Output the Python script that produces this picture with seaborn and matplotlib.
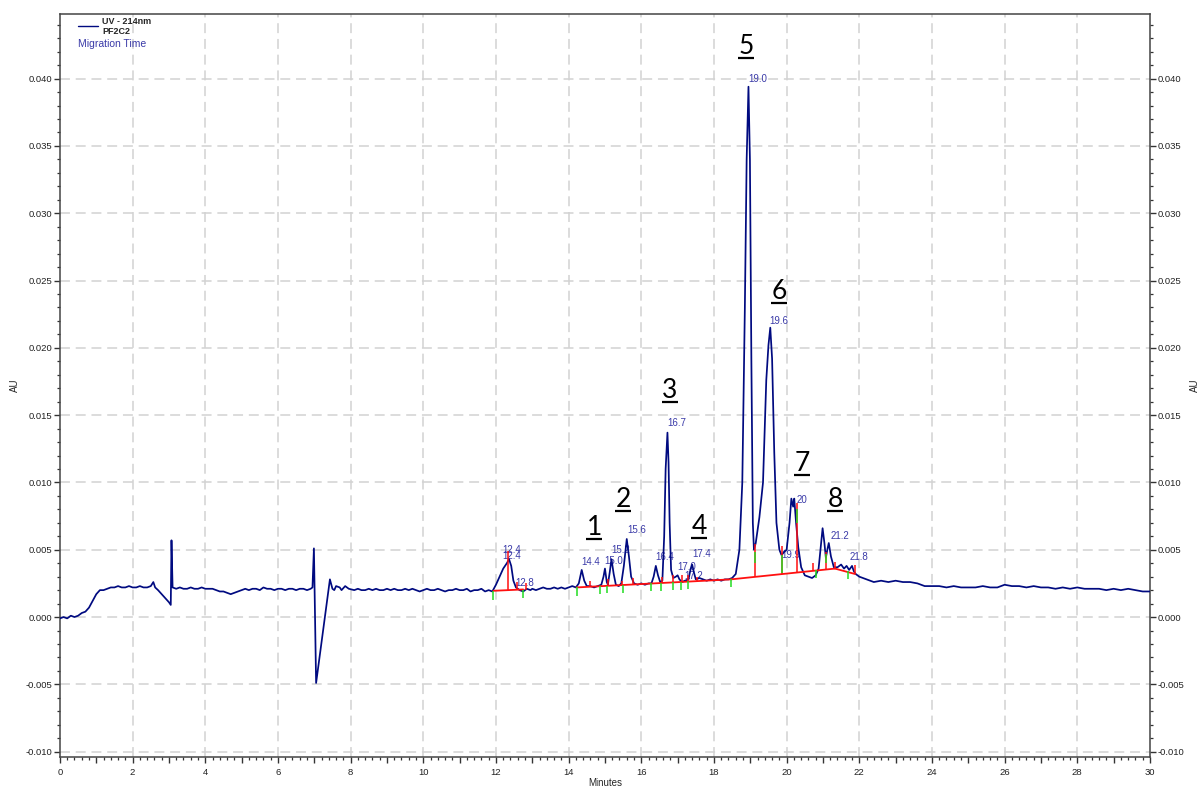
import numpy as np
import pandas as pd
import matplotlib
matplotlib.use("Agg")
import matplotlib.pyplot as plt
import matplotlib.transforms as mtransforms
from matplotlib.ticker import MultipleLocator, FuncFormatter
import seaborn as sns

# UV 214 nm trace (Minutes, AU)
trace_start = [(0.0, -0.0001), (0.1, 0.0000), (0.2, -0.0001), (0.3, 0.0001), (0.4, 0.0000),
               (0.5, 0.0001), (0.6, 0.0003), (0.7, 0.0004), (0.8, 0.0007), (0.9, 0.0012),
               (1.0, 0.0017), (1.1, 0.0020), (1.2, 0.0020), (1.3, 0.0021), (1.4, 0.0022),
               (1.5, 0.0022), (1.6, 0.0023), (1.7, 0.0022), (1.8, 0.0022), (1.9, 0.0023),
               (2.0, 0.0022), (2.1, 0.0022), (2.2, 0.0023), (2.3, 0.0022), (2.4, 0.0022),
               (2.5, 0.0023), (2.57, 0.0026), (2.62, 0.0022), (2.7, 0.0020), (2.8, 0.0017),
               (2.9, 0.0014), (3.0, 0.0011), (3.05, 0.0009), (3.07, 0.0057), (3.10, 0.0022)]
trace_flat1 = [(3.2, 0.0021), (3.3, 0.0022), (3.4, 0.0021), (3.5, 0.0021), (3.6, 0.0022),
               (3.7, 0.0021), (3.8, 0.0021), (3.9, 0.0022), (4.0, 0.0021), (4.1, 0.0021),
               (4.2, 0.0021), (4.3, 0.0020), (4.4, 0.0019), (4.5, 0.0019), (4.6, 0.0018),
               (4.7, 0.0017), (4.8, 0.0018), (4.9, 0.0019), (5.0, 0.0020), (5.1, 0.0021),
               (5.2, 0.0020), (5.3, 0.0021), (5.4, 0.0021), (5.5, 0.0020), (5.6, 0.0022),
               (5.7, 0.0021), (5.8, 0.0021), (5.9, 0.0020), (6.0, 0.0021), (6.1, 0.0021),
               (6.2, 0.0020), (6.3, 0.0021), (6.4, 0.0021), (6.5, 0.0020), (6.6, 0.0021),
               (6.7, 0.0021), (6.8, 0.0020), (6.9, 0.0021), (6.95, 0.0022), (6.99, 0.0051)]
trace_dip7 = [(7.05, -0.0049), (7.43, 0.0028), (7.5, 0.0021), (7.55, 0.0020), (7.6, 0.0023),
              (7.7, 0.0022), (7.75, 0.0020), (7.85, 0.0023), (7.95, 0.0021)]
trace_flat2 = [(8.1, 0.0020), (8.2, 0.0021), (8.3, 0.0020), (8.4, 0.0020), (8.5, 0.0021),
               (8.6, 0.0020), (8.7, 0.0021), (8.8, 0.0020), (8.9, 0.0020), (9.0, 0.0021),
               (9.1, 0.0020), (9.2, 0.0021), (9.3, 0.0020), (9.4, 0.0020), (9.5, 0.0021),
               (9.6, 0.0020), (9.7, 0.0021), (9.8, 0.0020), (9.9, 0.0019), (10.0, 0.0020),
               (10.1, 0.0021), (10.2, 0.0020), (10.3, 0.0020), (10.4, 0.0021), (10.5, 0.0020),
               (10.6, 0.0019), (10.7, 0.0020), (10.8, 0.0020), (10.9, 0.0021), (11.0, 0.0020),
               (11.1, 0.0020), (11.2, 0.0021), (11.3, 0.0019), (11.4, 0.0020), (11.5, 0.0020),
               (11.6, 0.0021), (11.7, 0.0019), (11.8, 0.0020), (11.9, 0.0019)]
trace_peaks_a = [(12.0, 0.0024), (12.1, 0.0030), (12.2, 0.0036), (12.3, 0.0040), (12.36, 0.0043),
                 (12.42, 0.0038), (12.48, 0.0027), (12.55, 0.0022), (12.65, 0.0020), (12.75, 0.0019),
                 (12.85, 0.0021), (12.95, 0.0020), (13.0, 0.0021), (13.1, 0.0020), (13.2, 0.0021),
                 (13.3, 0.0022), (13.4, 0.0021), (13.5, 0.0021), (13.6, 0.0022), (13.7, 0.0021),
                 (13.8, 0.0022), (13.9, 0.0021), (14.0, 0.0022), (14.1, 0.0023), (14.2, 0.0022),
                 (14.28, 0.0025), (14.36, 0.0035), (14.43, 0.0027), (14.5, 0.0023), (14.6, 0.0023),
                 (14.7, 0.0022), (14.8, 0.0023), (14.9, 0.0024), (14.96, 0.0030), (15.0, 0.0036),
                 (15.05, 0.0026), (15.08, 0.0024), (15.13, 0.0033), (15.18, 0.0043), (15.24, 0.0032),
                 (15.3, 0.0024), (15.38, 0.0023), (15.45, 0.0025), (15.52, 0.0038), (15.6, 0.0058),
                 (15.66, 0.0045), (15.72, 0.0030), (15.8, 0.0025), (15.9, 0.0024), (16.0, 0.0025),
                 (16.1, 0.0024), (16.2, 0.0025), (16.28, 0.0025), (16.34, 0.0030), (16.4, 0.0038),
                 (16.46, 0.0031), (16.52, 0.0026), (16.58, 0.0027), (16.63, 0.0060), (16.67, 0.0110),
                 (16.72, 0.0137), (16.75, 0.0115), (16.78, 0.0070), (16.82, 0.0035), (16.88, 0.0029),
                 (16.95, 0.0030), (17.0, 0.0031), (17.05, 0.0028), (17.12, 0.0026), (17.2, 0.0027),
                 (17.3, 0.0028), (17.36, 0.0036), (17.4, 0.0039), (17.45, 0.0033), (17.5, 0.0028),
                 (17.6, 0.0029), (17.7, 0.0028), (17.8, 0.0027), (17.9, 0.0028), (18.0, 0.0027),
                 (18.1, 0.0028), (18.2, 0.0027), (18.3, 0.0028), (18.4, 0.0028), (18.5, 0.0029)]
trace_peaks_b = [(18.6, 0.0032), (18.7, 0.0050), (18.78, 0.0100), (18.85, 0.0229), (18.9, 0.0340),
                 (18.95, 0.0394), (18.99, 0.0340), (19.03, 0.0190), (19.07, 0.0070), (19.1, 0.0050),
                 (19.15, 0.0055), (19.25, 0.0074), (19.35, 0.0100), (19.44, 0.0176), (19.5, 0.0202),
                 (19.55, 0.0215), (19.6, 0.0192), (19.66, 0.0122), (19.72, 0.0070), (19.8, 0.0050),
                 (19.86, 0.0046), (19.92, 0.0048), (20.0, 0.0050), (20.08, 0.0070), (20.13, 0.0088),
                 (20.18, 0.0082), (20.21, 0.0088), (20.26, 0.0070), (20.32, 0.0052), (20.4, 0.0037),
                 (20.5, 0.0031), (20.6, 0.0030), (20.7, 0.0029), (20.8, 0.0031), (20.88, 0.0036),
                 (20.95, 0.0055), (20.99, 0.0066), (21.04, 0.0055), (21.08, 0.0044), (21.12, 0.0050),
                 (21.16, 0.0055), (21.22, 0.0045), (21.3, 0.0037), (21.4, 0.0037), (21.5, 0.0039),
                 (21.58, 0.0036), (21.65, 0.0038), (21.72, 0.0035), (21.8, 0.0038), (21.85, 0.0034),
                 (21.9, 0.0032), (22.0, 0.0030)]
trace_tail = [(22.2, 0.0028), (22.4, 0.0026), (22.6, 0.0027), (22.8, 0.0026), (23.0, 0.0027),
              (23.2, 0.0026), (23.4, 0.0026), (23.6, 0.0025), (23.8, 0.0023), (24.0, 0.0023),
              (24.2, 0.0023), (24.4, 0.0022), (24.6, 0.0023), (24.8, 0.0022), (25.0, 0.0022),
              (25.2, 0.0022), (25.4, 0.0023), (25.6, 0.0022), (25.8, 0.0022), (26.0, 0.0024),
              (26.2, 0.0023), (26.4, 0.0023), (26.6, 0.0022), (26.8, 0.0023), (27.0, 0.0022),
              (27.2, 0.0022), (27.4, 0.0021), (27.6, 0.0022), (27.8, 0.0021), (28.0, 0.0022),
              (28.2, 0.0021), (28.4, 0.0021), (28.6, 0.0021), (28.8, 0.0020), (29.0, 0.0021),
              (29.2, 0.0020), (29.4, 0.0021), (29.6, 0.0020), (29.8, 0.0019), (30.0, 0.0019)]

# integration baseline segments (start, end)
baseline_segments = [((11.93, 0.00195), (12.75, 0.00205)),
                     ((14.22, 0.0022), (18.47, 0.0028)),
                     ((18.47, 0.0028), (21.33, 0.0036)),
                     ((21.33, 0.0036), (21.88, 0.0032))]

# red drop lines / peak end marks
red_x = [12.34, 12.58, 12.84, 14.59, 15.08, 15.46, 15.77, 16.56, 16.87, 17.11, 17.29, 17.52,
         19.13, 19.86, 20.28, 20.73, 21.08, 21.33, 21.88]
red_lo = [0.0020, 0.0020, 0.0020, 0.0023, 0.0023, 0.0024, 0.0024, 0.0025, 0.0026, 0.0026, 0.0027, 0.0027,
          0.0030, 0.0032, 0.0033, 0.0034, 0.0035, 0.0036, 0.0032]
red_hi = [0.0049, 0.0026, 0.0025, 0.0027, 0.0028, 0.0027, 0.0029, 0.0030, 0.0031, 0.0031, 0.0031, 0.0030,
          0.0054, 0.0053, 0.0085, 0.0040, 0.0048, 0.0041, 0.0039]

# green peak start marks
green_x = [11.93, 12.75, 14.22, 14.86, 15.07, 15.49, 16.27, 16.54, 16.88, 17.08, 17.29, 18.47,
           19.13, 19.86, 20.28, 20.81, 21.08, 21.70]
green_lo = [0.0013, 0.0014, 0.0016, 0.0017, 0.0018, 0.0018, 0.0019, 0.0019, 0.0020, 0.0020, 0.0021, 0.0022,
            0.0040, 0.0033, 0.0070, 0.0029, 0.0040, 0.0028]
green_hi = [0.0019, 0.0020, 0.0022, 0.0023, 0.0023, 0.0024, 0.0025, 0.0025, 0.0026, 0.0026, 0.0027, 0.0028,
            0.0048, 0.0046, 0.0080, 0.0035, 0.0047, 0.0034]

# migration time labels
mt_labels = ["12.4", "12.4", "12.8", "14.4", "15.0", "15.2", "15.6", "16.4", "16.7", "17.0", "17.2",
             "17.4", "19.0", "19.6", "19.9", "20", "21.2", "21.8"]
mt_x = [12.44, 12.44, 12.80, 14.62, 15.25, 15.44, 15.88, 16.65, 16.98, 17.26, 17.45,
        17.67, 19.21, 19.79, 20.12, 20.42, 21.47, 21.99]
mt_y = [0.00498, 0.00453, 0.00253, 0.00409, 0.00416, 0.00498, 0.00647, 0.00446, 0.0144, 0.00372, 0.00305,
        0.00468, 0.0400, 0.0220, 0.00461, 0.00869, 0.0060, 0.00446]

# peak numbers (baseline position of the digit)
peak_ids = ["1", "2", "3", "4", "5", "6", "7", "8"]
peak_id_x = [14.70, 15.50, 16.79, 17.59, 18.88, 19.79, 20.42, 21.33]
peak_id_y = [0.00613, 0.00821, 0.01631, 0.00620, 0.04183, 0.02366, 0.01088, 0.00814]

trace = trace_start + trace_flat1 + trace_dip7 + trace_flat2 + trace_peaks_a + trace_peaks_b + trace_tail
df = pd.DataFrame(trace, columns=["Minutes", "AU"])

sns.set_style("ticks")
plt.rcParams["font.family"] = ["Liberation Sans", "DejaVu Sans"]
plt.rcParams["axes.unicode_minus"] = False

fig = plt.figure(figsize=(11.99, 7.88), dpi=100)
ax = fig.add_axes([0.05, 0.0393, 0.9091, 0.9429])

grid_kw = dict(color="#d2d2d2", lw=1.1, ls=(0, (6.5, 3.8)), zorder=1)
for gx in range(2, 30, 2):
    ax.axvline(gx, **grid_kw)
for gy in np.arange(-0.010, 0.0401, 0.005):
    ax.axhline(gy, **grid_kw)

sns.lineplot(data=df, x="Minutes", y="AU", ax=ax, color="#000a80", linewidth=1.25,
             zorder=3, sort=False)

for (x0, y0), (x1, y1) in baseline_segments:
    ax.plot([x0, x1], [y0, y1], color="#ff1010", lw=1.3, zorder=4)
ax.vlines(red_x, red_lo, red_hi, color="#ff1010", lw=1.1, zorder=4)
ax.vlines(green_x, green_lo, green_hi, color="#22dd22", lw=1.1, zorder=4)

for s, x, y in zip(mt_labels, mt_x, mt_y):
    ax.text(x, y, s, fontsize=7, color="#3a3aa8", ha="center", va="center", zorder=2)

under = mtransforms.offset_copy(ax.transData, fig=fig, x=0, y=-4, units="dots")
for s, x, y in zip(peak_ids, peak_id_x, peak_id_y):
    ax.text(x, y, s, fontsize=19, color="black", ha="center", va="baseline",
            family=["Lato", "DejaVu Sans"], zorder=5)
    ax.plot([x], [y], marker="_", markersize=12, mew=1.6, color="black",
            transform=under, zorder=5)

ax.set_xlim(0, 30)
ax.set_ylim(-0.0104, 0.0448)
ax.xaxis.set_major_locator(MultipleLocator(1))
ax.xaxis.set_minor_locator(MultipleLocator(0.2))
ax.xaxis.set_major_formatter(FuncFormatter(lambda v, p: f"{v:.0f}" if round(v) % 2 == 0 else ""))
ax.yaxis.set_major_locator(MultipleLocator(0.005))
ax.yaxis.set_minor_locator(MultipleLocator(0.001))
ax.yaxis.set_major_formatter(FuncFormatter(lambda v, p: f"{v:.3f}"))
ax.tick_params(axis="both", which="both", direction="out", colors="#333333", labelsize=6.8,
               labelcolor="#222222")
ax.tick_params(axis="both", which="major", length=4, width=1)
ax.tick_params(axis="both", which="minor", length=2.5, width=0.9)
ax.tick_params(axis="y", which="both", left=True, right=True, labelleft=True, labelright=True, pad=1.5)
ax.tick_params(axis="x", which="both", top=False, pad=4)
ax.set_xlabel("")
ax.set_ylabel("")
for side in ["left", "bottom", "top", "right"]:
    ax.spines[side].set_visible(True)
    ax.spines[side].set_color("#444444")
    ax.spines[side].set_linewidth(1.1)

# legend block
ax.plot([0.0165, 0.0346], [0.9838, 0.9838], transform=ax.transAxes, color="#000a80", lw=1.0)
ax.text(0.039, 0.990, "UV - 214nm", transform=ax.transAxes, fontsize=6.5, fontweight="bold",
        va="center", ha="left")
ax.text(0.039, 0.976, "PF2C2", transform=ax.transAxes, fontsize=6.5, fontweight="bold",
        va="center", ha="left")
ax.text(0.0165, 0.960, "Migration Time", transform=ax.transAxes, fontsize=7.5, color="#3a3aa8",
        va="center", ha="left")

fig.text(0.0125, 0.511, "AU", rotation=90, fontsize=7, ha="center", va="center")
fig.text(0.9967, 0.511, "AU", rotation=90, fontsize=7, ha="center", va="center")
fig.text(0.5046, 0.0063, "Minutes", fontsize=7, ha="center", va="center")

fig.savefig("out.png", dpi=100)
